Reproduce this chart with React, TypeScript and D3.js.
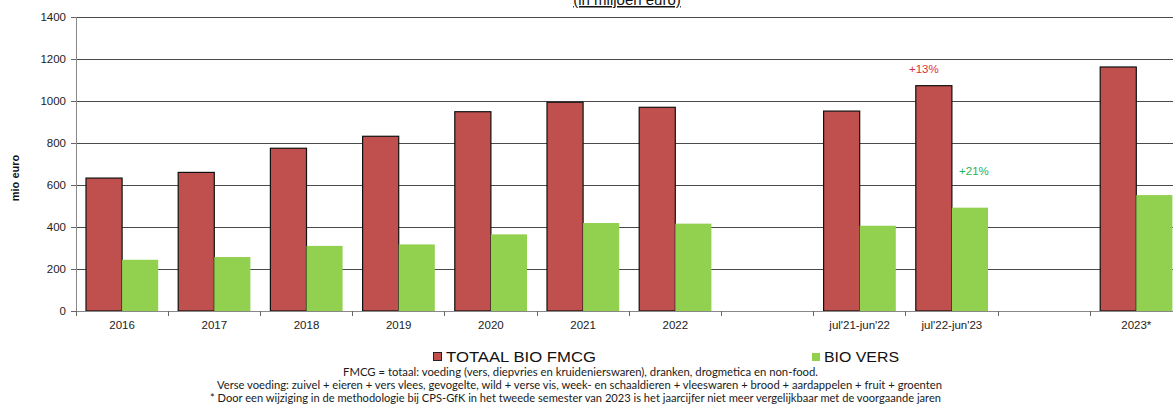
import { useMemo } from "react";
import * as d3 from "d3";

// Chart data
const CATEGORIES = ["2016", "2017", "2018", "2019", "2020", "2021", "2022", "", "jul'21-jun'22", "jul'22-jun'23", "", "2023*"];
const TOTAAL = [633, 660, 775, 832, 949, 994, 970, null, 952, 1073, null, 1162];
const VERS = [244, 257, 310, 317, 365, 419, 416, null, 406, 492, null, 552];
const Y_TICKS = [0, 200, 400, 600, 800, 1000, 1200, 1400];
const SERIES = ["TOTAAL BIO FMCG", "BIO VERS"];
const COLORS = ["#c0504d", "#92d050"];
const NOTES = [
  "FMCG = totaal: voeding (vers, diepvries en kruidenierswaren), dranken, drogmetica en non-food.",
  "Verse voeding: zuivel + eieren + vers vlees, gevogelte, wild + verse vis, week- en schaaldieren + vleeswaren + brood + aardappelen + fruit + groenten",
  "* Door een  wijziging in de methodologie bij CPS-GfK in het tweede semester van 2023 is het jaarcijfer niet meer vergelijkbaar met de voorgaande jaren",
];
const NOTE_LAYOUT = [
  { x: 343, w: 475, y: 376 },
  { x: 217, w: 725, y: 389 },
  { x: 210, w: 731, y: 402 },
];

const WIDTH = 1173;
const HEIGHT = 405;
const MARGIN = { left: 76, top: 17, bottom: 94 };
const STEP = 92.2;
const AXIS_FONT = "'Liberation Sans', Arial, sans-serif";

export default function App() {
  const keys = CATEGORIES.map((c, i) => `${i}:${c}`);

  const xScale = useMemo(
    () =>
      d3
        .scaleBand<string>()
        .domain(keys)
        .range([MARGIN.left, MARGIN.left + STEP * keys.length])
        .paddingInner(20 / STEP)
        .paddingOuter(10 / STEP),
    []
  );

  const inner = useMemo(
    () => d3.scaleBand<number>().domain([0, 1]).range([0, xScale.bandwidth()]),
    [xScale]
  );

  const yScale = useMemo(
    () => d3.scaleLinear().domain([0, 1400]).range([HEIGHT - MARGIN.bottom, MARGIN.top]),
    []
  );

  const y0 = yScale(0);
  const x0 = MARGIN.left;
  const boundaries = d3.range(keys.length + 1).map((i) => x0 + i * xScale.step());
  const series = [TOTAAL, VERS];

  const idx13 = CATEGORIES.indexOf("jul'22-jun'23");

  return (
    <svg
      width={WIDTH}
      height={HEIGHT}
      style={{ position: "absolute", left: 0, top: 0, background: "#fff" }}
    >
      {/* title, cut off at the top as in the source */}
      <text
        x={627}
        y={5}
        textAnchor="middle"
        fontFamily={AXIS_FONT}
        fontSize={15}
        textDecoration="underline"
        fill="#111"
      >
        (in miljoen euro)
      </text>

      {/* grid lines */}
      {Y_TICKS.filter((t) => t > 0).map((t) => (
        <line
          key={t}
          x1={x0}
          x2={WIDTH}
          y1={yScale(t)}
          y2={yScale(t)}
          stroke="#4a4a4a"
          shapeRendering="crispEdges"
        />
      ))}

      {/* y axis */}
      <line x1={x0} x2={x0} y1={MARGIN.top} y2={y0} stroke="#888" shapeRendering="crispEdges" />
      {Y_TICKS.map((t) => (
        <g key={t}>
          <line x1={x0 - 5} x2={x0} y1={yScale(t)} y2={yScale(t)} stroke="#666" shapeRendering="crispEdges" />
          <text
            x={66}
            y={yScale(t)}
            dy="0.35em"
            textAnchor="end"
            fontFamily={AXIS_FONT}
            fontSize={11.5}
            fill="#222"
          >
            {t}
          </text>
        </g>
      ))}
      <text
        transform={`translate(19, 178) rotate(-90)`}
        textAnchor="middle"
        fontFamily={AXIS_FONT}
        fontSize={11}
        fontWeight="bold"
        fill="#111"
      >
        mio euro
      </text>

      {/* bars */}
      {keys.map((k, i) =>
        series.map((vals, s) => {
          const v = vals[i];
          if (v == null) return null;
          const x = (xScale(k) ?? 0) + (inner(s) ?? 0);
          return (
            <rect
              key={`${k}-${s}`}
              x={x}
              y={yScale(v)}
              width={inner.bandwidth()}
              height={y0 - yScale(v)}
              fill={COLORS[s]}
              stroke={s === 0 ? "#111" : "none"}
              strokeWidth={s === 0 ? 1.2 : 0}
            />
          );
        })
      )}

      {/* x axis */}
      <line x1={x0} x2={WIDTH} y1={y0} y2={y0} stroke="#888" shapeRendering="crispEdges" />
      {boundaries.map((bx, i) => (
        <line key={i} x1={bx} x2={bx} y1={y0} y2={y0 + 5} stroke="#666" shapeRendering="crispEdges" />
      ))}
      {keys.map((k, i) => (
        <text
          key={k}
          x={(xScale(k) ?? 0) + xScale.bandwidth() / 2}
          y={y0 + 18}
          textAnchor="middle"
          fontFamily={AXIS_FONT}
          fontSize={11.5}
          fill="#222"
        >
          {CATEGORIES[i]}
        </text>
      ))}

      {/* growth annotations */}
      <text
        x={(xScale(keys[idx13]) ?? 0) + inner.bandwidth() / 2 - 10}
        y={yScale(TOTAAL[idx13] as number) - 13}
        textAnchor="middle"
        fontFamily={AXIS_FONT}
        fontSize={11.5}
        fill="#e0303a"
      >
        +13%
      </text>
      <text
        x={(xScale(keys[idx13]) ?? 0) + (inner(1) ?? 0) + inner.bandwidth() / 2 + 4}
        y={yScale(VERS[idx13] as number) - 33}
        textAnchor="middle"
        fontFamily={AXIS_FONT}
        fontSize={11.5}
        fill="#1fb35a"
      >
        +21%
      </text>

      {/* legend */}
      <rect x={433.5} y={352.5} width={8} height={8} fill={COLORS[0]} stroke="#222" />
      <text x={446} y={362} fontFamily={AXIS_FONT} fontSize={14} textLength={150} lengthAdjust="spacingAndGlyphs" fill="#111">
        {SERIES[0]}
      </text>
      <rect x={812} y={353} width={8} height={8} fill={COLORS[1]} />
      <text x={824} y={362} fontFamily={AXIS_FONT} fontSize={14} textLength={75} lengthAdjust="spacingAndGlyphs" fill="#111">
        {SERIES[1]}
      </text>

      {/* footnotes */}
      {NOTES.map((n, i) => (
        <text
          key={i}
          x={NOTE_LAYOUT[i].x}
          y={NOTE_LAYOUT[i].y}
          fontFamily="Lato, 'Open Sans', sans-serif"
          fontSize={11.5}
          textLength={NOTE_LAYOUT[i].w}
          lengthAdjust="spacingAndGlyphs"
          fill="#1a1a1a"
        >
          {n}
        </text>
      ))}
    </svg>
  );
}
